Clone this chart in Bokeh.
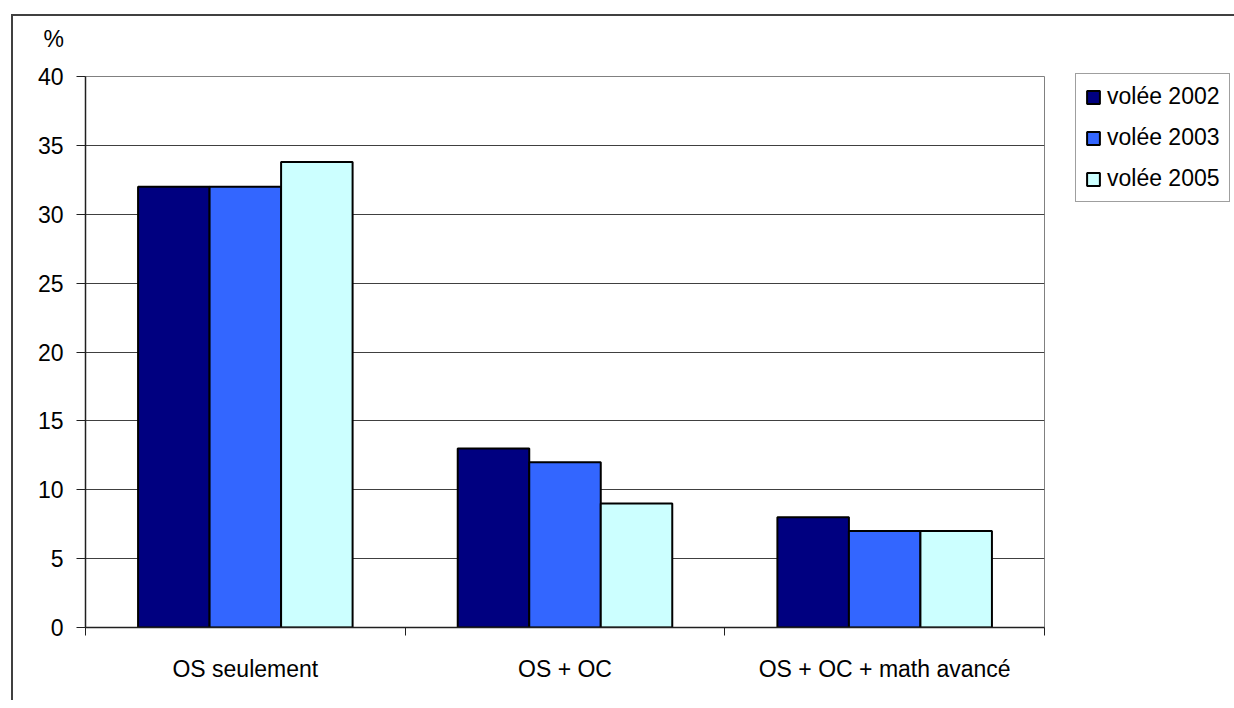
from bokeh.plotting import figure
from bokeh.models import Range1d, FixedTicker, Legend, LegendItem, Title
from bokeh.embed import file_html
from bokeh.resources import INLINE

categories = ["OS seulement", "OS + OC", "OS + OC + math avancé"]
series_names = ["volée 2002", "volée 2003", "volée 2005"]
v2002 = [32, 13, 8]
v2003 = [32, 12, 7]
v2005 = [33.8, 9, 7]
series_values = [v2002, v2003, v2005]
colors = ["#000080", "#3366FF", "#CCFFFF"]
y_ticks = [0, 5, 10, 15, 20, 25, 30, 35, 40]

FONT = "Liberation Sans"
FS = "23px"

W, H = 1213, 684
ML, MT = 72, 60
FW, FH = 959, 551
MR, MB = W - ML - FW, H - MT - FH

p = figure(width=W, height=H, output_backend="svg", toolbar_location=None,
           x_range=Range1d(0, len(categories)), y_range=Range1d(0, 40),
           min_border_left=ML, min_border_right=MR, min_border_top=MT, min_border_bottom=MB,
           frame_width=FW, frame_height=FH, margin=(14, 0, 0, 11))
p.styles = {"border-left": "2px solid #404040", "border-top": "2px solid #404040"}
p.background_fill_color = "white"
p.border_fill_color = "white"
p.outline_line_color = "#808080"
p.outline_line_width = 1

bw = 0.2237
renderers = []
for j, (vals, col) in enumerate(zip(series_values, colors)):
    xs = [i + 0.5 + (j - 1) * bw for i in range(len(categories))]
    r = p.vbar(x=xs, top=vals, bottom=0, width=bw, fill_color=col,
               line_color="black", line_width=2)
    renderers.append(r)

# grid
p.xgrid.visible = False
p.ygrid.ticker = FixedTicker(ticks=y_ticks[1:-1])
p.ygrid.grid_line_color = "#404040"
p.ygrid.grid_line_width = 1

# y axis
ya = p.yaxis[0]
ya.ticker = FixedTicker(ticks=y_ticks)
ya.axis_line_color = "#202020"
ya.axis_line_width = 1.5
ya.major_tick_out = 9
ya.major_tick_in = 0
ya.major_tick_line_color = "#202020"
ya.minor_tick_line_color = None
ya.major_label_standoff = 13
ya.major_label_text_font = FONT
ya.major_label_text_font_size = FS
ya.major_label_text_color = "black"

# x axis: labels at category centres, ticks at category boundaries
xa = p.xaxis[0]
centers = [i + 0.5 for i in range(len(categories))]
bounds = [float(i) for i in range(len(categories) + 1)]
xa.ticker = FixedTicker(ticks=centers, minor_ticks=bounds)
xa.major_label_overrides = {c: name for c, name in zip(centers, categories)}
xa.major_tick_out = 0
xa.major_tick_in = 0
xa.minor_tick_out = 8
xa.minor_tick_in = 0
xa.minor_tick_line_color = "#202020"
xa.axis_line_color = "#202020"
xa.axis_line_width = 1.5
xa.major_label_standoff = 20
xa.major_label_text_font = FONT
xa.major_label_text_font_size = FS
xa.major_label_text_color = "black"

# "%" unit label above the y axis (outermost title)
p.title.text = "%"
p.title.align = "left"
p.title.offset = -42
p.title.standoff = 2
p.title.text_font = FONT
p.title.text_font_size = FS
p.title.text_font_style = "normal"
p.title.text_color = "black"
# spacer between the "%" and the frame
p.add_layout(Title(text=" ", text_font_size="10px", standoff=11), "above")

legend = Legend(items=[LegendItem(label=n, renderers=[r]) for n, r in zip(series_names, renderers)],
                location=(31, 425), orientation="vertical",
                glyph_width=16, glyph_height=16, label_standoff=6, padding=9, spacing=14,
                label_text_font=FONT, label_text_font_size=FS, label_text_color="black",
                border_line_color="#404040", border_line_width=1,
                background_fill_color="white", background_fill_alpha=1, margin=0)
p.add_layout(legend, "right")

open("out.html", "w").write(file_html(p, INLINE))
